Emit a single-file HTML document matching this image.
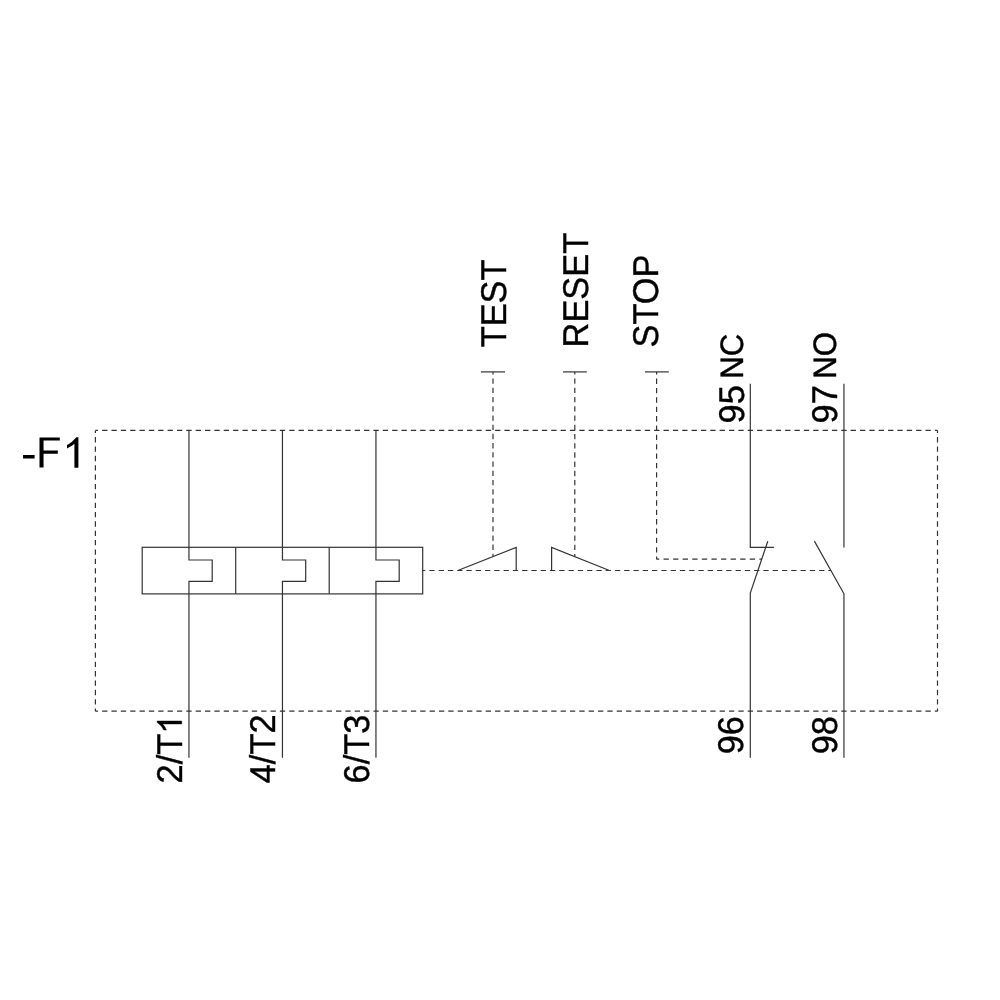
<!DOCTYPE html>
<html>
<head>
<meta charset="utf-8">
<style>
html,body{margin:0;padding:0;background:#fff;width:1000px;height:1000px;overflow:hidden}
svg{display:block}
text{font-family:"Liberation Sans",sans-serif;fill:#000;text-rendering:geometricPrecision;stroke:#000;stroke-width:0.4px}
svg{will-change:transform}
</style>
</head>
<body>
<svg width="1000" height="1000" viewBox="0 0 1000 1000">
<g fill="none" stroke="#333" stroke-width="1.2">
<!-- dashed enclosure -->
<!-- dashed -->
<line x1="95.4" y1="430.4" x2="937.5" y2="430.4" stroke-dasharray="5.3 4.0567" stroke-dashoffset="2.65"/>
<line x1="95.4" y1="711.2" x2="937.5" y2="711.2" stroke-dasharray="5.3 4.0567" stroke-dashoffset="2.65"/>
<line x1="95.4" y1="430.4" x2="95.4" y2="711.2" stroke-dasharray="5.3 4.0600" stroke-dashoffset="2.65"/>
<line x1="937.5" y1="430.4" x2="937.5" y2="711.2" stroke-dasharray="5.3 4.0600" stroke-dashoffset="2.65"/>
<line x1="422.7" y1="570.5" x2="831" y2="570.5" stroke-dasharray="5.3 3.9795" stroke-dashoffset="2.65"/>
<line x1="493" y1="371.9" x2="493" y2="556.5" stroke-dasharray="5.3 3.9300" stroke-dashoffset="2.65"/>
<line x1="574.8" y1="371.9" x2="574.8" y2="556.6" stroke-dasharray="5.3 3.9350" stroke-dashoffset="2.65"/>
<line x1="656.6" y1="371.9" x2="656.6" y2="559.2" stroke-dasharray="5.3 4.0650" stroke-dashoffset="2.65"/>
<line x1="656.6" y1="559.2" x2="762" y2="559.2" stroke-dasharray="5.3 4.2818" stroke-dashoffset="2.65"/>
<!-- thermal box -->
<rect x="142.2" y="547.3" width="280.5" height="46.6"/>
<line x1="235.7" y1="547.4" x2="235.7" y2="593.8"/>
<line x1="329.2" y1="547.4" x2="329.2" y2="593.8"/>
<!-- phase lines with notches -->
<path d="M188.95 430.4 V560 H212.2 V581.4 H188.95 V757.8"/>
<path d="M282.45 430.4 V560 H305.7 V581.4 H282.45 V757.8"/>
<path d="M375.95 430.4 V560 H399.2 V581.4 H375.95 V757.8"/>
<!-- buttons -->
<line x1="481" y1="371.9" x2="505" y2="371.9"/>
<line x1="563" y1="371.9" x2="586.8" y2="371.9"/>
<line x1="645" y1="371.9" x2="668.8" y2="371.9"/>
<path d="M458.4 570.2 L516.2 547.4 V570.2"/>
<path d="M551.6 570.2 V547.4 L608.8 570.2"/>
<!-- NC contact -->
<path d="M750.3 383.8 V547.4 H773.9"/>
<path d="M767.8 541.2 L750.3 593 V757.7"/>
<!-- NO contact -->
<path d="M843.95 383.8 V547.45"/>
<path d="M814.4 541.15 L843.95 593.8 V757.7"/>
</g>
<g>
<path d="M23.06 454.9H34.6V458.6H23.06Z M39.5 437.5H59.8V440.6H43.55V450.5H57.8V453.8H43.55V467.4H39.5Z M78.4 467.8H74.4V443.8C72.5 445.5 70 447 67 448.6V445C70.5 443.3 73.5 440.5 76.4 437.2H78.4Z"/>
<text font-size="34.4" transform="translate(181.75,783.48) rotate(-90) scale(1,1.0405)">2/T</text>
<path d="M763 0H583V1138C480 1045 350 960 223 910V1081C390 1160 580 1300 668 1466H763Z" stroke="#000" stroke-width="23.8" transform="translate(181.75,783.48) rotate(-90) translate(49.70,0) scale(0.01680,-0.01680)"/>
<text font-size="34.4" transform="translate(275.25,783.29) rotate(-90) scale(1,1.0405)">4/T2</text>
<text font-size="34.4" transform="translate(369.25,783.50) rotate(-90) scale(1,1.0405)">6/T3</text>
<text font-size="34.4" transform="translate(506.00,347.37) rotate(-90) scale(1,1.0405)">TEST</text>
<text font-size="34.4" transform="translate(588.00,347.42) rotate(-90) scale(1,1.0405)">RESET</text>
<text font-size="34.4" transform="translate(657.90,347.56) rotate(-90) scale(1,1.0405)">STOP</text>
<text font-size="34.4" transform="translate(743.50,423.41) rotate(-90) scale(1,1.0405)">95</text>
<text font-size="31.2" transform="translate(743.00,378.76) rotate(-90) scale(1,1.0405)">NC</text>
<text font-size="34.4" transform="translate(837.00,423.41) rotate(-90) scale(1,1.0405)">97</text>
<text font-size="31.2" transform="translate(835.80,378.76) rotate(-90) scale(1,1.0405)">NO</text>
<text font-size="34.4" transform="translate(743.40,754.31) rotate(-90) scale(1,1.0405)">96</text>
<text font-size="34.4" transform="translate(836.90,754.31) rotate(-90) scale(1,1.0405)">98</text>
</g>
</svg>
</body>
</html>
